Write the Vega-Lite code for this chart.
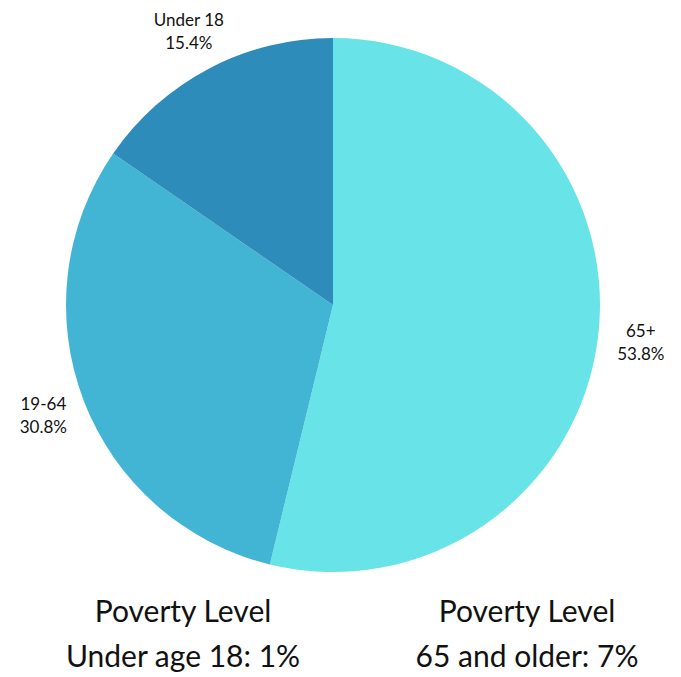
{
  "$schema": "https://vega.github.io/schema/vega-lite/v6.json",
  "padding": 0,
  "background": "white",
  "spacing": 0,
  "bounds": "flush",
  "config": {"view": {"stroke": null}, "font": "Lato"},
  "vconcat": [
    {
      "width": 666,
      "height": 610,
      "data": {"values": [
        {"group": "65+", "pct": 53.8, "ord": 1, "label": "65+\n53.8%"},
        {"group": "19-64", "pct": 30.8, "ord": 2, "label": "19-64\n30.8%"},
        {"group": "Under 18", "pct": 15.4, "ord": 3, "label": "Under 18\n15.4%"}
      ]},
      "encoding": {
        "theta": {"field": "pct", "type": "quantitative", "stack": true},
        "order": {"field": "ord", "type": "quantitative"}
      },
      "layer": [
        {
          "mark": {"type": "arc", "radius": 267},
          "encoding": {
            "color": {"field": "group", "type": "nominal", "legend": null,
              "scale": {"domain": ["65+", "19-64", "Under 18"], "range": ["#68E4E8", "#42B5D4", "#2E8CBB"]}}
          }
        },
        {
          "mark": {"type": "text", "radius": 310, "fontSize": 17, "lineBreak": "\n", "lineHeight": 23, "dy": -10, "color": "#111111", "align": "center", "baseline": "middle"},
          "encoding": {"text": {"field": "label", "type": "nominal"}}
        }
      ]
    },
    {
      "width": 681,
      "height": 50,
      "data": {"values": [
        {"k": "a", "txt": "Poverty Level\nUnder age 18: 1%"},
        {"k": "b", "txt": "Poverty Level\n65 and older: 7%"}
      ]},
      "mark": {"type": "text", "fontSize": 30, "lineBreak": "\n", "lineHeight": 45, "dy": -22, "color": "#111111", "align": "center", "baseline": "middle"},
      "encoding": {
        "x": {"field": "k", "type": "nominal", "axis": null, "scale": {"type": "point", "padding": 0, "range": [183, 527]}},
        "text": {"field": "txt", "type": "nominal"}
      }
    }
  ]
}
